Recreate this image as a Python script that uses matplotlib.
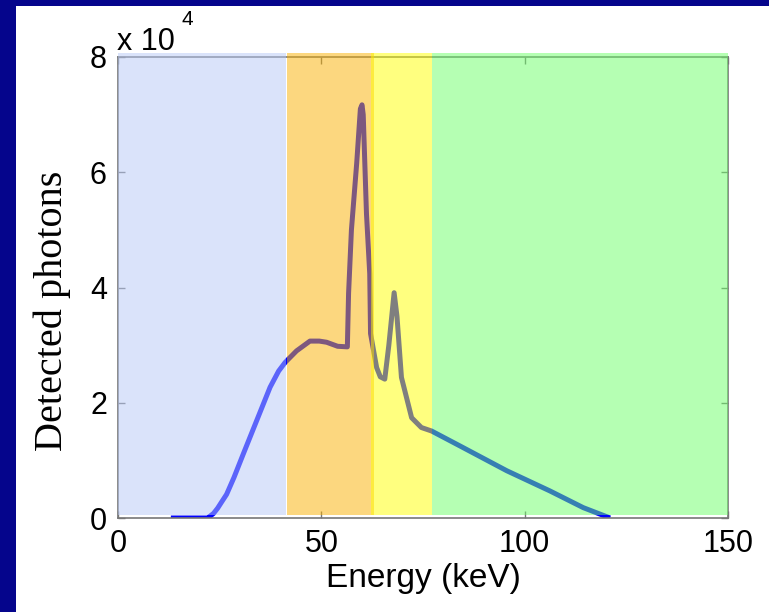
import matplotlib.pyplot as plt
from matplotlib.patches import Rectangle

# detected spectrum (keV, photons)
energy = [13, 22, 22.6, 23.5, 24.5, 25.5, 26.7, 28.5, 30.8, 34.1, 37.4, 39.5,
          41.1, 43.9, 47.2, 49.5, 51.3, 54.0, 56.4, 56.7, 57.4, 58.7, 59.6,
          60.0, 60.3, 61.1, 61.9, 62.1, 63.6, 64.5, 65.6, 66.6, 67.9, 68.6,
          69.7, 72.2, 74.6, 77.1, 84.1, 95.6, 106.2, 114.4, 121]
counts = [0, 0, 300, 800, 1700, 2800, 4100, 7000, 11100, 16900, 22700, 25500,
          27000, 29000, 30700, 30700, 30500, 29800, 29700, 39000, 50000, 61600,
          71000, 71700, 70000, 52800, 42400, 32000, 26100, 24500, 24100, 30000,
          39100, 35000, 24400, 17400, 15700, 15100, 12500, 8200, 4700, 1800, 0]

# energy windows
band_lo = [0, 41.5, 62.3, 77.2]
band_hi = [41.2, 63.0, 77.2, 150]
band_colors = ['#b7c9f7', '#fbb101', '#ffff00', '#6dff69']

fig = plt.figure(figsize=(7.69, 6.12), dpi=100)
fig.patch.set_facecolor('#05058c')
fig.patches.append(Rectangle((16 / 769, 0), 1, (612 - 6) / 612,
                             transform=fig.transFigure, facecolor='white',
                             edgecolor='none', zorder=-10))

ax = fig.add_axes([118 / 769, (612 - 518) / 612, 610 / 769, 461 / 612])
ax.set_facecolor('none')

ax.plot(energy, counts, color='#0000ff', lw=3.6, zorder=2, solid_capstyle='butt')

for lo, hi, c in zip(band_lo, band_hi, band_colors):
    ax.axvspan(lo, hi, ymin=0.007, ymax=1.008, facecolor=c, alpha=0.5,
               edgecolor='none', zorder=3, clip_on=False)

ax.set_xlim(0, 150)
ax.set_ylim(0, 80000)
ax.set_xticks([0, 50, 100, 150])
ax.set_yticks([0, 20000, 40000, 60000, 80000])
ax.set_yticklabels(['0', '2', '4', '6', '8'])

for s in ax.spines.values():
    s.set_color('#777777')
    s.set_linewidth(1.2)
ax.tick_params(direction='in', length=5, width=1, colors='#777777',
               top=True, right=True, labelsize=22, labelcolor='black', pad=8)
for lab in ax.get_xticklabels() + ax.get_yticklabels():
    lab.set_family('Liberation Sans')

ax.set_xlabel('Energy (keV)', fontsize=24, family='Liberation Sans', labelpad=3)
ax.set_ylabel('Detected photons', fontsize=29, family='Liberation Serif')
ax.yaxis.set_label_coords(-0.077, 0.45)

fig.text(117 / 769, (612 - 50) / 612, 'x 10', fontsize=22,
         family='Liberation Sans', va='baseline', ha='left')
fig.text(181 / 769, (612 - 25) / 612, '4', fontsize=15,
         family='Liberation Sans', va='baseline', ha='left')

plt.savefig('out.png', dpi=100, facecolor=fig.get_facecolor())
